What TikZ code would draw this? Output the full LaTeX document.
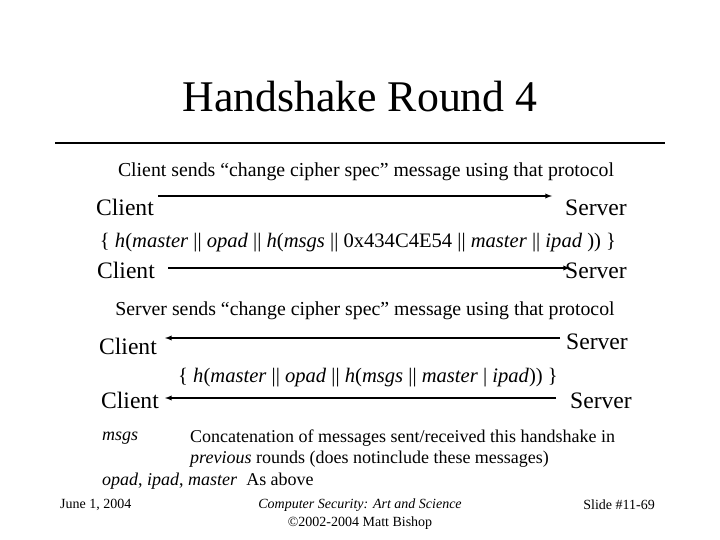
\documentclass[tikz,border=0pt]{standalone}
\usepackage{fontspec}
\setmainfont{Liberation Serif}
\begin{document}
\begin{tikzpicture}[x=1pt,y=-1pt,
  big/.style={font=\fontsize{23.6}{26}\selectfont, inner sep=0pt},
  mid/.style={font=\fontsize{19.8}{22}\selectfont, inner sep=0pt},
  eq/.style={font=\fontsize{20.6}{23}\selectfont, inner sep=0pt},
  low/.style={font=\fontsize{18}{21}\selectfont, inner sep=0pt},
  sm/.style={font=\fontsize{14}{16}\selectfont, inner sep=0pt},
  msg/.style={-latex, line width=1.3pt}]
\useasboundingbox (0,0) rectangle (720,540);
\node[inner sep=0pt, font=\fontsize{43.8}{46}\selectfont] (title) at (360,97) {Handshake Round 4};
\coordinate (rl) at (55,143); \coordinate (rr) at (665,143);
\draw[line width=2.5pt] (rl) -- (rr);
\node[mid] (t1) at (366,172) {Client sends “change cipher spec” message using that protocol};
\node[big] (c1) at (125,207) {Client};
\node[big] (s1) at (596,208) {Server};
\coordinate (b1) at (552,196); \coordinate (a1) at (158,196);
\draw[msg] (a1) -- (b1);
\node[eq] (t2) at (358,243) {\{ \textit{h}(\textit{master} || \textit{opad} || \textit{h}(\textit{msgs} || 0x434C4E54 || \textit{master} || \textit{ipad} )) \}};
\node[big] (c2) at (126,270) {Client};
\node[big] (s2) at (596,271) {Server};
\coordinate (a2) at (168,268); \coordinate (b2) at (570,268);
\draw[msg] (a2) -- (b2);
\node[mid] (t3) at (365,311) {Server sends “change cipher spec” message using that protocol};
\node[big] (c3) at (128,346) {Client};
\node[big] (s3) at (597,342) {Server};
\coordinate (a3) at (560,338); \coordinate (b3) at (165,338);
\draw[msg] (a3) -- (b3);
\node[eq] (t4) at (368,378) {\{ \textit{h}(\textit{master} || \textit{opad} || \textit{h}(\textit{msgs} || \textit{master} | \textit{ipad})) \}};
\node[big] (c4) at (130,400) {Client};
\node[big] (s4) at (601,401) {Server};
\coordinate (a4) at (556,398); \coordinate (b4) at (165,398);
\draw[msg] (a4) -- (b4);
\node[low, anchor=west] (m1) at (102,438) {\textit{msgs}};
\node[low, anchor=west] (m2) at (190,438) {Concatenation of messages sent/received this handshake in};
\node[low, anchor=west] (m3) at (190,459) {\textit{previous} rounds (does notinclude these messages)};
\node[low, anchor=west] (m4) at (102,481) {\textit{opad}, \textit{ipad}, \textit{master}\ \ As above};
\node[sm, anchor=west] (f1) at (60,505) {June 1, 2004};
\node[sm] (f2) at (360,505) {\textit{Computer Security: Art and Science}};
\node[sm] (f3) at (360,523) {©2002-2004 Matt Bishop};
\node[sm, anchor=east] (f4) at (655,505) {Slide \#11-69};
\end{tikzpicture}
\end{document}
